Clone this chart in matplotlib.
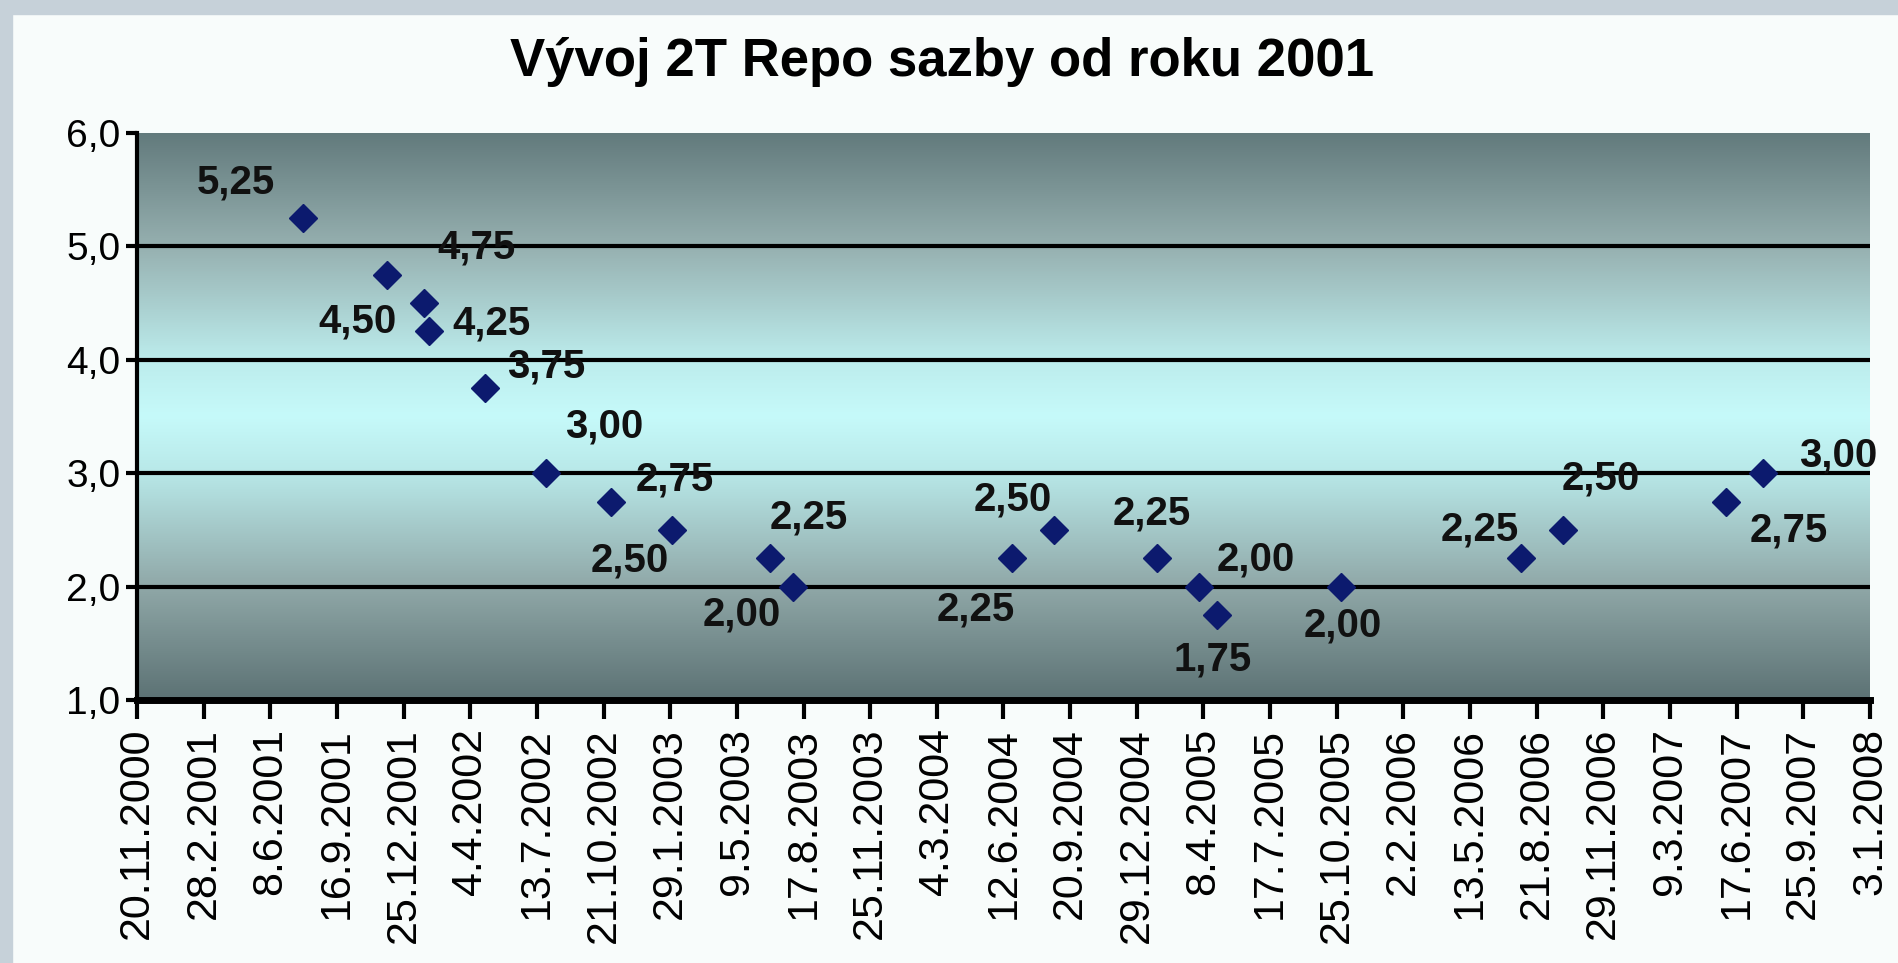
import datetime as dt
import numpy as np
import matplotlib
matplotlib.use("Agg")
import matplotlib.pyplot as plt
import matplotlib.dates as mdates
from matplotlib.colors import LinearSegmentedColormap
from matplotlib.ticker import FuncFormatter, FixedLocator

# --- Data: 2T repo rate changes ---
dates = [
    "2001-07-27", "2001-11-30", "2002-01-25", "2002-02-01", "2002-04-26",
    "2002-07-26", "2002-11-01", "2003-01-31", "2003-06-27", "2003-08-01",
    "2004-06-25", "2004-08-27", "2005-01-28", "2005-04-01", "2005-04-29",
    "2005-10-31", "2006-07-28", "2006-09-29", "2007-06-01", "2007-07-27",
]
rates = [5.25, 4.75, 4.50, 4.25, 3.75, 3.00, 2.75, 2.50, 2.25, 2.00,
         2.25, 2.50, 2.25, 2.00, 1.75, 2.00, 2.25, 2.50, 2.75, 3.00]
# label offsets (pixels) relative to each point
label_offsets = [
    (-67, 36), (90, 27), (-67, -18), (63, 8), (61, 22),
    (59, 47), (64, 22), (-42, -31), (39, 41), (-51, -28),
    (-36, -51), (-41, 30), (-5, 45), (57, 27), (-5, -45),
    (2, -39), (-41, 29), (38, 51), (63, -29), (75, 18),
]
axis_start = dt.date(2000, 11, 20)
axis_end = dt.date(2008, 1, 3)
tick_step_days = 100

x = [mdates.date2num(dt.date.fromisoformat(d)) for d in dates]
x0 = mdates.date2num(axis_start)
x1 = mdates.date2num(axis_end)
ticks = np.arange(x0, x1 + 1, tick_step_days)

FONT = ["Liberation Sans", "DejaVu Sans"]

fig = plt.figure(figsize=(18.98, 9.63), dpi=100, facecolor="#f8fcfb")
# grey frame strips at top and left
fig.add_artist(plt.Rectangle((0, 1 - 14 / 963), 1, 14 / 963, transform=fig.transFigure,
                             color="#c6d1d9", zorder=0))
fig.add_artist(plt.Rectangle((0, 0), 12 / 1898, 1, transform=fig.transFigure,
                             color="#c6d1d9", zorder=0))

ax = fig.add_axes([0.0722, 0.2731, 0.913, 0.5888])
ax.set_xlim(x0, x1)
ax.set_ylim(1, 6)

# --- gradient plot background ---
cmap = LinearSegmentedColormap.from_list("bg", [
    (0.00, "#5c7274"),
    (0.20, "#90a8a8"),
    (0.40, "#b8e8e8"),
    (0.50, "#c6fafa"),
    (0.60, "#bcecec"),
    (0.80, "#96b0b0"),
    (1.00, "#627a7c"),
])
grad = np.linspace(0, 1, 256).reshape(-1, 1)
ax.imshow(grad, cmap=cmap, aspect="auto", origin="lower",
          extent=(x0, x1, 1, 6), zorder=0)

# grid lines
for yv in [2, 3, 4, 5]:
    ax.axhline(yv, color="black", lw=3, zorder=1)

ax.plot(x, rates, linestyle="none", marker="D", markersize=14,
        color="#0c1a6e", markeredgecolor="#0c1a6e", zorder=3)

for xi, yi, (dx, dy) in zip(x, rates, label_offsets):
    ax.annotate(f"{yi:.2f}".replace(".", ","), (xi, yi), xytext=(dx, dy),
                textcoords="offset pixels", ha="center", va="center",
                fontsize=29, fontweight="bold", family=FONT, color="#111111",
                zorder=4)

# --- axes styling ---
for side in ["top", "right"]:
    ax.spines[side].set_visible(False)
ax.spines["left"].set_linewidth(3)
ax.spines["bottom"].set_linewidth(5)

ax.yaxis.set_major_locator(FixedLocator([1, 2, 3, 4, 5, 6]))
ax.yaxis.set_major_formatter(FuncFormatter(lambda v, p: f"{v:.1f}".replace(".", ",")))
ax.tick_params(axis="y", direction="out", length=8, width=3, pad=4)
for lbl in ax.get_yticklabels():
    lbl.set_fontsize(28)
    lbl.set_family(FONT)

ax.xaxis.set_major_locator(FixedLocator(ticks))


def fmt_date(v, pos):
    d = mdates.num2date(v)
    return f"{d.day}.{d.month}.{d.year}"


ax.xaxis.set_major_formatter(FuncFormatter(fmt_date))
ax.tick_params(axis="x", direction="out", length=14, width=3, pad=6,
               labelrotation=90)
for lbl in ax.get_xticklabels():
    lbl.set_fontsize(31)
    lbl.set_family(FONT)

fig.text(0.4963, 0.936, "Vývoj 2T Repo sazby od roku 2001", ha="center", va="center",
         fontsize=38, fontweight="bold", family=FONT)

fig.savefig("out.png", dpi=100, facecolor=fig.get_facecolor())
